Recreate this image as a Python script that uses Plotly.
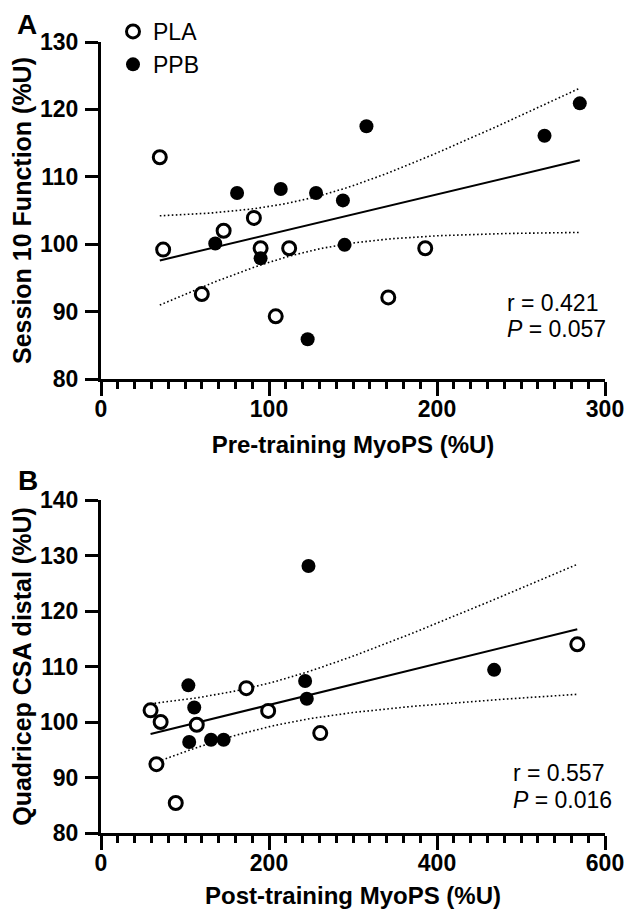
import numpy as np
import plotly.graph_objects as go

# ---------------- Panel A data ----------------
a_pla_x = [35, 37, 60, 73, 91, 95, 104, 112, 171, 193]
a_pla_y = [112.9, 99.2, 92.6, 102.0, 103.9, 99.4, 89.3, 99.4, 92.1, 99.4]
a_ppb_x = [68, 81, 95, 107, 123, 128, 144, 145, 158, 264, 285]
a_ppb_y = [100.1, 107.6, 97.9, 108.2, 85.9, 107.6, 106.5, 99.9, 117.5, 116.1, 120.9]
a_r_line = "r = 0.421"
a_p_line = "<i>P</i> = 0.057"

# ---------------- Panel B data ----------------
b_pla_x = [59, 66, 71, 89, 114, 173, 199, 261, 567]
b_pla_y = [102.1, 92.4, 100.0, 85.4, 99.5, 106.1, 102.0, 98.0, 114.0]
b_ppb_x = [104, 105, 111, 131, 146, 243, 245, 247, 468]
b_ppb_y = [106.6, 96.4, 102.6, 96.8, 96.8, 107.4, 104.2, 128.1, 109.4]
b_r_line = "r = 0.557"
b_p_line = "<i>P</i> = 0.016"

a_xticks = [0, 100, 200, 300]
a_yticks = [80, 90, 100, 110, 120, 130]
b_xticks = [0, 200, 400, 600]
b_yticks = [80, 90, 100, 110, 120, 130, 140]

# two-sided 95% t critical values for df = n - 2
T_CRIT = {19: 2.093, 16: 2.120}

FONT = "Liberation Sans, Arial, Helvetica, sans-serif"
# page body has a default 8px margin; size the figure so it fits the 637x909 window
OFF = 8
WF, HF = 637 - OFF, 909 - OFF


def px(x):
    return (x - OFF) / WF


def py(y):
    return 1 - (y - OFF) / HF


def fit_band(x, y):
    x = np.asarray(x, float)
    y = np.asarray(y, float)
    n = len(x)
    b, a = np.polyfit(x, y, 1)
    xs = np.linspace(x.min(), x.max(), 80)
    yhat = a + b * xs
    resid = y - (a + b * x)
    s = np.sqrt(np.sum(resid ** 2) / (n - 2))
    sxx = np.sum((x - x.mean()) ** 2)
    se = s * np.sqrt(1.0 / n + (xs - x.mean()) ** 2 / sxx)
    t = T_CRIT[n - 2]
    return xs, yhat, yhat - t * se, yhat + t * se


fig = go.Figure()


def add_panel(pla_x, pla_y, ppb_x, ppb_y, xa, ya, legend):
    xs, yhat, lo, hi = fit_band(pla_x + ppb_x, pla_y + ppb_y)
    for yy in (lo, hi):
        fig.add_trace(go.Scatter(x=xs, y=yy, mode="lines", xaxis=xa, yaxis=ya,
                                 line=dict(color="black", width=1.6, dash="1.6px,2.4px"),
                                 showlegend=False, hoverinfo="skip"))
    fig.add_trace(go.Scatter(x=xs, y=yhat, mode="lines", xaxis=xa, yaxis=ya,
                             line=dict(color="black", width=2),
                             showlegend=False, hoverinfo="skip"))
    fig.add_trace(go.Scatter(x=pla_x, y=pla_y, mode="markers", name="PLA",
                             xaxis=xa, yaxis=ya, legendgroup="PLA",
                             showlegend=legend,
                             marker=dict(symbol="circle", size=13, color="white",
                                         line=dict(color="black", width=3))))
    fig.add_trace(go.Scatter(x=ppb_x, y=ppb_y, mode="markers", name="PPB",
                             xaxis=xa, yaxis=ya, legendgroup="PPB",
                             showlegend=legend,
                             marker=dict(symbol="circle", size=14, color="black",
                                         line=dict(color="black", width=0))))


add_panel(a_pla_x, a_pla_y, a_ppb_x, a_ppb_y, "x", "y", True)
add_panel(b_pla_x, b_pla_y, b_ppb_x, b_ppb_y, "x2", "y2", False)

xdom = [px(101), px(605)]
ydomA = [py(379), py(42)]
ydomB = [py(833), py(500)]

tickfont = dict(family=FONT, size=23, color="black")
titlefont = dict(family=FONT, size=24, color="black")


def b(vals):
    return ["<b>%d</b>" % v for v in vals]


def xaxis(rng, ticks, dmin, title, anchor):
    return dict(domain=xdom, range=rng, tickvals=ticks, ticktext=b(ticks), anchor=anchor,
                automargin=False,
                showline=True, linecolor="black", linewidth=3,
                ticks="outside", ticklen=14, tickwidth=3, tickcolor="black",
                minor=dict(dtick=dmin, ticks="outside", ticklen=7, tickwidth=3,
                           tickcolor="black", showgrid=False),
                showgrid=False, zeroline=False, tickfont=tickfont,
                ticklabelstandoff=-7,
                title=dict(text="<b>%s</b>" % title, font=titlefont, standoff=16))


def yaxis(rng, ticks, dom, title, anchor):
    return dict(domain=dom, range=rng, tickvals=ticks, ticktext=b(ticks), anchor=anchor,
                automargin=False,
                showline=True, linecolor="black", linewidth=3,
                ticks="outside", ticklen=13, tickwidth=3, tickcolor="black",
                showgrid=False, zeroline=False, tickfont=tickfont,
                ticklabelstandoff=2,
                title=dict(text="<b>%s</b>" % title,
                           font=dict(family=FONT, size=25, color="black"), standoff=4))


fig.update_layout(
    width=WF, height=HF,
    margin=dict(l=0, r=0, t=0, b=0),
    paper_bgcolor="white", plot_bgcolor="white",
    font=dict(family=FONT, color="black"),
    xaxis=xaxis([0, 300], a_xticks, 10, "Pre-training MyoPS (%U)", "y"),
    yaxis=yaxis([80, 130], a_yticks, ydomA, "Session 10 Function (%U)", "x"),
    xaxis2=xaxis([0, 600], b_xticks, 20, "Post-training MyoPS (%U)", "y2"),
    yaxis2=yaxis([80, 140], b_yticks, ydomB, "Quadricep CSA distal (%U)", "x2"),
    showlegend=True,
    legend=dict(x=px(113), y=py(10), xanchor="left", yanchor="top",
                font=dict(family=FONT, size=23, color="black"),
                traceorder="grouped", tracegroupgap=0,
                bgcolor="rgba(0,0,0,0)", borderwidth=0),
)

annos = [
    dict(text="<b>A</b>", x=px(16), y=1, xanchor="left", yanchor="top", borderpad=0,
         font=dict(family=FONT, size=28, color="black")),
    dict(text="<b>B</b>", x=px(16), y=py(480), xanchor="left", yanchor="middle",
         font=dict(family=FONT, size=28, color="black")),
    dict(text=a_r_line, x=px(505), y=py(303), xanchor="left", yanchor="middle",
         font=dict(family=FONT, size=23, color="black")),
    dict(text=a_p_line, x=px(505), y=py(329), xanchor="left", yanchor="middle",
         font=dict(family=FONT, size=23, color="black")),
    dict(text=b_r_line, x=px(511), y=py(773), xanchor="left", yanchor="middle",
         font=dict(family=FONT, size=23, color="black")),
    dict(text=b_p_line, x=px(511), y=py(800), xanchor="left", yanchor="middle",
         font=dict(family=FONT, size=23, color="black")),
]
for a in annos:
    a.update(xref="paper", yref="paper", showarrow=False)
fig.update_layout(annotations=annos)

fig.write_html("out.html")
